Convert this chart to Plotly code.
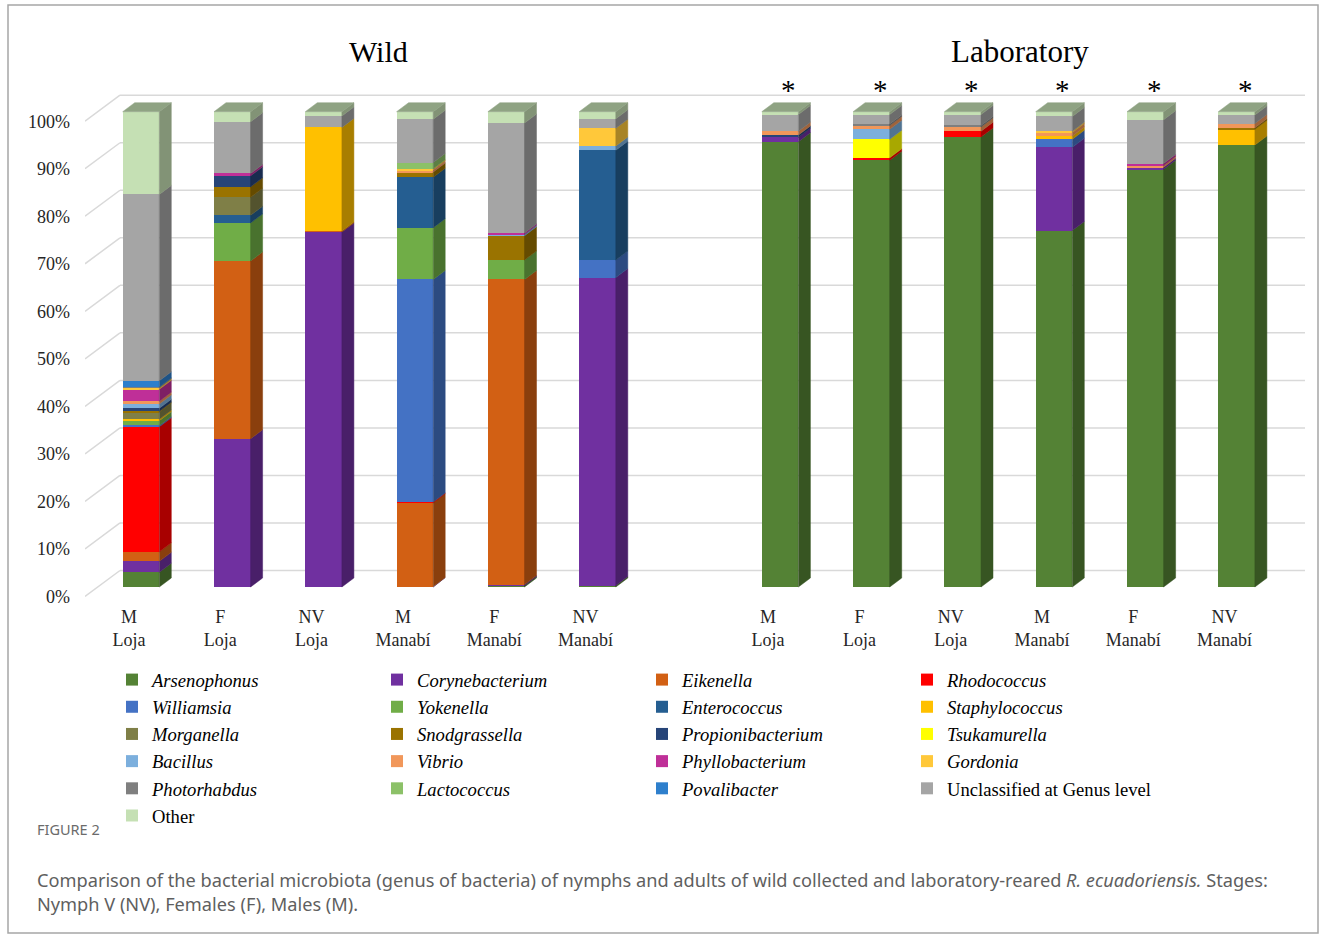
import plotly.graph_objects as go

# ---------------------------------------------------------------- data
stages = ["M<br>Loja", "F<br>Loja", "NV<br>Loja", "M<br>Manabí", "F<br>Manabí", "NV<br>Manabí"]
groups = ["Wild", "Laboratory"]
# bar order: wild (6 stages) then laboratory (6 stages)
lab_marked = [False] * 6 + [True] * 6

percent_ticks = [0, 10, 20, 30, 40, 50, 60, 70, 80, 90, 100]

arsenophonus = [3.1, 0, 0, 0, 0.3, 0.3, 93.7, 89.8, 94.7, 75.0, 87.9, 93.0]
corynebacterium = [2.3, 31.2, 74.7, 0.1, 0.2, 64.8, 0.9, 0, 0, 17.5, 0.4, 0]
eikenella = [2.0, 37.4, 0.2, 17.6, 64.2, 0, 0, 0, 0, 0, 0, 0]
rhodococcus = [26.3, 0, 0, 0.2, 0, 0, 0, 0.5, 1.2, 0, 0, 0]
williamsia = [0.3, 0, 0, 46.8, 0, 3.7, 0, 0, 0, 1.7, 0, 0]
yokenella = [1.0, 8.0, 0, 10.9, 4.1, 0, 0, 0, 0, 0, 0, 0]
enterococcus = [0, 1.6, 0, 10.6, 0, 23.1, 0, 0, 0, 0, 0, 0]
staphylococcus = [0.3, 0, 21.8, 0, 0, 0, 0, 0, 0, 0.7, 0, 3.3]
morganella = [1.5, 3.8, 0, 0, 0, 0, 0, 0, 0, 0, 0, 0]
snodgrassella = [0.2, 2.2, 0, 1.1, 5.1, 0, 0, 0, 0, 0, 0, 0.3]
propionibacterium = [0.6, 2.3, 0, 0, 0, 0, 0.5, 0, 0, 0, 0, 0]
tsukamurella = [0, 0, 0, 0, 0, 0, 0, 3.9, 0, 0, 0, 0]
bacillus = [0.9, 0, 0, 0, 0.3, 0.9, 0, 2.1, 0, 0, 0, 0]
vibrio = [0.6, 0, 0, 0.3, 0, 0, 0.8, 0.8, 0.9, 0.7, 0.4, 0.9]
phyllobacterium = [2.5, 0.5, 0, 0.1, 0.3, 0, 0, 0, 0, 0, 0.4, 0]
gordonia = [0.3, 0, 0, 0.3, 0, 3.7, 0, 0, 0, 0.3, 0, 0]
photorhabdus = [0.2, 0, 0, 0, 0, 0, 0, 0.3, 0.3, 0, 0, 0]
lactococcus = [0, 0, 0, 1.3, 0, 0, 0, 0, 0, 0, 0, 0]
povalibacter = [1.3, 0, 0, 0, 0, 0, 0, 0, 0, 0, 0, 0]
unclassified = [39.2, 10.9, 2.4, 9.1, 23.1, 2.0, 3.5, 2.0, 2.3, 3.1, 9.2, 1.8]
other = [17.4, 2.1, 0.9, 1.6, 2.4, 1.5, 0.6, 0.6, 0.6, 1.0, 1.7, 0.7]

# (legend label, colour, values) in stacking / legend order
series = [
    ("<i>Arsenophonus</i>", "#548235", arsenophonus),
    ("<i>Corynebacterium</i>", "#7030a0", corynebacterium),
    ("<i>Eikenella</i>", "#d26014", eikenella),
    ("<i>Rhodococcus</i>", "#ff0000", rhodococcus),
    ("<i>Williamsia</i>", "#4472c4", williamsia),
    ("<i>Yokenella</i>", "#70ad47", yokenella),
    ("<i>Enterococcus</i>", "#255e91", enterococcus),
    ("<i>Staphylococcus</i>", "#ffc000", staphylococcus),
    ("<i>Morganella</i>", "#7f7f47", morganella),
    ("<i>Snodgrassella</i>", "#9a7300", snodgrassella),
    ("<i>Propionibacterium</i>", "#264478", propionibacterium),
    ("<i>Tsukamurella</i>", "#ffff00", tsukamurella),
    ("<i>Bacillus</i>", "#7cafdd", bacillus),
    ("<i>Vibrio</i>", "#f1975a", vibrio),
    ("<i>Phyllobacterium</i>", "#bf2f98", phyllobacterium),
    ("<i>Gordonia</i>", "#ffc83a", gordonia),
    ("<i>Photorhabdus</i>", "#7f7f7f", photorhabdus),
    ("<i>Lactococcus</i>", "#8cc168", lactococcus),
    ("<i>Povalibacter</i>", "#2e7fcc", povalibacter),
    ("Unclassified at Genus level", "#a5a5a5", unclassified),
    ("Other", "#c5e0b4", other),
]

# ---------------------------------------------------------------- geometry
FIG_W, FIG_H = 1328, 940
PLOT_L, PLOT_R, PLOT_T, PLOT_B = 85, 1305, 60, 600
SLOT_PX, FIRST_CENTER_PX = 91.3, 141.0   # category spacing on the bar plane
PCT_PX, ZERO_PX = 4.753, 587.0           # vertical scale on the bar plane

x_range = [(PLOT_L - FIRST_CENTER_PX) / SLOT_PX, (PLOT_R - FIRST_CENTER_PX) / SLOT_PX]
y_range = [(ZERO_PX - PLOT_B) / PCT_PX, (ZERO_PX - PLOT_T) / PCT_PX]

BAR_W = 36.6 / SLOT_PX
BAR_DX, BAR_DY = 12 / SLOT_PX, 9 / PCT_PX          # depth of each 3-D bar
WALL_DX, WALL_DY = 35 / SLOT_PX, 26 / PCT_PX       # depth of the whole chart box
FRONT_DX, FRONT_DY = -12 / SLOT_PX, -9.5 / PCT_PX  # front plane relative to bar faces
BACK_DY = FRONT_DY + WALL_DY

# one empty slot separates the two groups
positions = [i if i < 6 else i + 1 for i in range(len(stages) * 2)]


def px_x(px):
    return (px - PLOT_L) / (PLOT_R - PLOT_L)


def px_y(py):
    return (PLOT_B - py) / (PLOT_B - PLOT_T)


def shade(hex_color, k):
    h = hex_color.lstrip("#")
    r, g, b = (int(h[i:i + 2], 16) for i in (0, 2, 4))
    return "#%02x%02x%02x" % (int(r * k), int(g * k), int(b * k))


SERIF = "Liberation Serif"
fig = go.Figure()

# front faces: stacked bars
for name, color, vals in series:
    fig.add_trace(go.Bar(
        x=positions, y=vals, name=name, width=BAR_W,
        marker=dict(color=color, line=dict(width=0)),
        hovertemplate="%{y:.1f}%<extra>" + name + "</extra>",
    ))

# right-hand side faces of every stacked segment
base = [0.0] * len(positions)
tops_color = [None] * len(positions)
for name, color, vals in series:
    xs, ys = [], []
    for j, v in enumerate(vals):
        if v <= 0:
            continue
        y0, y1 = base[j], base[j] + v
        xr = positions[j] + BAR_W / 2
        xs += [xr, xr + BAR_DX, xr + BAR_DX, xr, xr, None]
        ys += [y0, y0 + BAR_DY, y1 + BAR_DY, y1, y0, None]
        base[j] = y1
        tops_color[j] = color
    if xs:
        side = shade(color, 0.66)
        fig.add_trace(go.Scatter(
            x=xs, y=ys, mode="lines", fill="toself", fillcolor=side,
            line=dict(color=side, width=0.5), showlegend=False, hoverinfo="skip",
        ))

# top faces of the bars
for j, pos in enumerate(positions):
    xl, xr, t = pos - BAR_W / 2, pos + BAR_W / 2, base[j]
    top = shade(tops_color[j], 0.73)
    fig.add_trace(go.Scatter(
        x=[xl, xl + BAR_DX, xr + BAR_DX, xr, xl],
        y=[t, t + BAR_DY, t + BAR_DY, t, t],
        mode="lines", fill="toself", fillcolor=top,
        line=dict(color=top, width=0.5), showlegend=False, hoverinfo="skip",
    ))

# back-wall gridlines and the diagonal lines running to the front plane
shapes = []
grid_col = "#d9d9d9"
for v in percent_ticks:
    shapes.append(dict(type="line", xref="x", yref="y", layer="below",
                       x0=x_range[0] + WALL_DX, x1=x_range[1], y0=v + BACK_DY, y1=v + BACK_DY,
                       line=dict(color=grid_col, width=1.5)))
    shapes.append(dict(type="line", xref="x", yref="y", layer="below",
                       x0=x_range[0], x1=x_range[0] + WALL_DX, y0=v + FRONT_DY, y1=v + BACK_DY,
                       line=dict(color=grid_col, width=1.5)))

# outer frame
shapes.append(dict(type="rect", xref="paper", yref="paper",
                   x0=px_x(8), x1=px_x(1318), y0=px_y(5), y1=px_y(933),
                   line=dict(color="#a6a6a6", width=1.5), fillcolor="rgba(0,0,0,0)"))

annotations = []
for title, cx, size in zip(groups, [378, 1020], [30, 31]):
    annotations.append(dict(text=title, xref="paper", yref="paper", x=px_x(cx), y=px_y(52),
                            showarrow=False, xanchor="center", yanchor="middle",
                            font=dict(family=SERIF, size=size, color="#000000")))
for pos, marked in zip(positions, lab_marked):
    if marked:
        annotations.append(dict(text="*", xref="x", yref="y", x=pos + BAR_DX / 2 + 0.03, y=104.6,
                                showarrow=False, xanchor="center", yanchor="middle",
                                font=dict(family=SERIF, size=29, color="#000000")))

annotations.append(dict(text="FIGURE 2", xref="paper", yref="paper", x=px_x(35), y=px_y(829),
                        showarrow=False, xanchor="left", yanchor="middle",
                        font=dict(family="Noto Sans", size=14.5, color="#6b6b6b")))
annotations.append(dict(
    text=("Comparison of the bacterial microbiota (genus of bacteria) of nymphs and adults of wild "
          "collected and laboratory-reared <i>R. ecuadoriensis.</i> Stages:<br>"
          "Nymph V (NV), Females (F), Males (M)."),
    xref="paper", yref="paper", x=px_x(35), y=px_y(892), align="left",
    showarrow=False, xanchor="left", yanchor="middle",
    font=dict(family="Noto Sans", size=18.2, color="#5f5f5f")))

fig.update_layout(
    width=FIG_W, height=FIG_H,
    margin=dict(l=PLOT_L, r=FIG_W - PLOT_R, t=PLOT_T, b=FIG_H - PLOT_B),
    paper_bgcolor="#ffffff", plot_bgcolor="rgba(0,0,0,0)",
    barmode="stack", bargap=0,
    font=dict(family=SERIF, size=18, color="#262626"),
    xaxis=dict(range=x_range, showgrid=False, zeroline=False, showline=False,
               tickmode="array", tickvals=[p + FRONT_DX for p in positions],
               ticktext=stages * 2, ticks="", ticklabelstandoff=4,
               tickfont=dict(family=SERIF, size=18, color="#262626")),
    yaxis=dict(range=y_range, showgrid=False, zeroline=False, showline=False,
               tickmode="array", tickvals=[v + FRONT_DY for v in percent_ticks],
               ticktext=[f"{v}%" for v in percent_ticks], ticks="", ticklabelstandoff=14,
               tickfont=dict(family=SERIF, size=18, color="#262626")),
    legend=dict(orientation="h", x=px_x(112), y=px_y(661), xanchor="left", yanchor="top",
                entrywidth=220, entrywidthmode="pixels", traceorder="normal",
                font=dict(family=SERIF, size=18.6, color="#000000"),
                bgcolor="rgba(0,0,0,0)"),
    shapes=shapes, annotations=annotations,
    showlegend=True,
)

fig.write_html("out.html")
